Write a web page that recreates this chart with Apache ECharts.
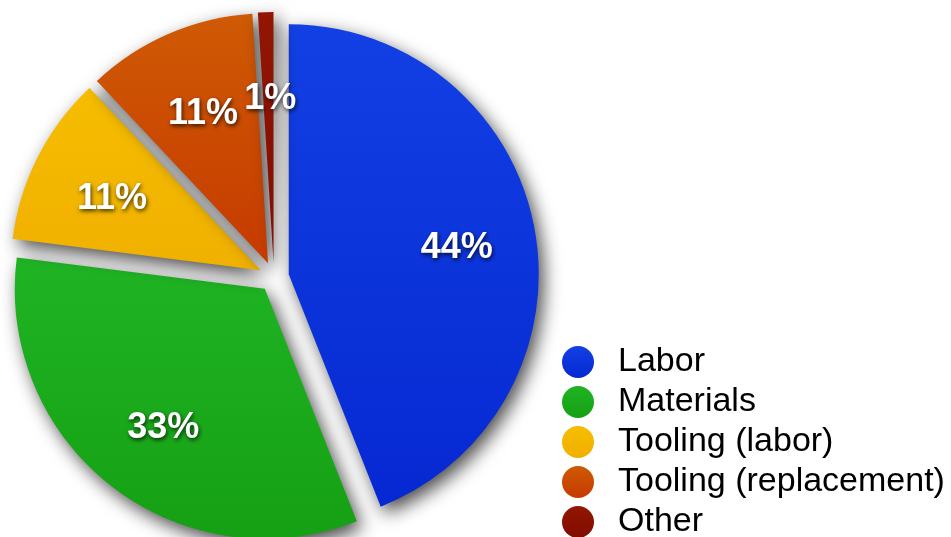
<!DOCTYPE html>
<html>
<head>
<meta charset="utf-8">
<script src="https://cdn.jsdelivr.net/npm/echarts@6/dist/echarts.min.js"></script>
<style>
  html, body { margin: 0; padding: 0; background: #ffffff; }
  #chart { width: 951px; height: 537px; }
</style>
</head>
<body>
<div id="chart"></div>
<script>
// Cost breakdown (percent of total)
const categories = ['Labor', 'Materials', 'Tooling (labor)', 'Tooling (replacement)', 'Other'];
const shares = [44, 33, 11, 11, 1];

// Top / bottom gradient stops for each slice
const colorTop = ['#1240e4', '#1fb424', '#f6bd00', '#cf5a04', '#921602'];
const colorBottom = ['#0628d2', '#16a014', '#f0b000', '#c63a00', '#820c00'];

const grad = (i) => new echarts.graphic.LinearGradient(0, 0, 0, 1, [
  { offset: 0, color: colorTop[i] },
  { offset: 1, color: colorBottom[i] }
]);

const pieCenter = [274, 277];
const labelCenter = [276, 283];
const pieRadius = 250;
const explode = 15;

const chart = echarts.init(document.getElementById('chart'), null, { renderer: 'canvas' });

chart.setOption({
  backgroundColor: '#ffffff',
  animation: false,
  legend: {
    orient: 'vertical',
    left: 562,
    top: 345,
    height: 220,
    padding: 0,
    icon: 'circle',
    itemWidth: 32,
    itemHeight: 32,
    itemGap: 6,
    selectedMode: false,
    data: categories,
    itemStyle: { shadowBlur: 0, shadowColor: 'transparent', shadowOffsetX: 0, shadowOffsetY: 0 },
    textStyle: {
      fontFamily: '"Liberation Sans", Arial, Helvetica, sans-serif',
      fontSize: 34,
      color: '#000000',
      padding: [0, 0, 0, 19]
    }
  },
  series: [
    {
      // the slices themselves
      type: 'pie',
      center: pieCenter,
      radius: pieRadius,
      startAngle: 90,
      clockwise: true,
      selectedMode: 'multiple',
      selectedOffset: explode,
      avoidLabelOverlap: false,
      label: { show: false },
      labelLine: { show: false },
      emphasis: { disabled: true, scale: false },
      itemStyle: {
        shadowBlur: 18,
        shadowColor: 'rgba(0,0,0,0.7)',
        shadowOffsetX: 5,
        shadowOffsetY: 7
      },
      data: categories.map((name, i) => ({
        name,
        value: shares[i],
        selected: true,
        itemStyle: { color: grad(i) }
      }))
    },
    {
      // transparent ring carrying the percentage labels
      type: 'pie',
      center: labelCenter,
      radius: [82, pieRadius],
      startAngle: 90,
      clockwise: true,
      selectedMode: 'multiple',
      selectedOffset: explode,
      silent: true,
      avoidLabelOverlap: false,
      minShowLabelAngle: 0,
      labelLayout: { hideOverlap: false },
      emphasis: { disabled: true, scale: false },
      itemStyle: { color: 'rgba(0,0,0,0)', borderWidth: 0 },
      labelLine: { show: false },
      label: {
        show: true,
        position: 'inside',
        formatter: (p) => p.value + '%',
        fontFamily: '"Liberation Sans", Arial, Helvetica, sans-serif',
        fontWeight: 'bold',
        fontSize: 36,
        color: '#ffffff',
        textShadowColor: 'rgba(0,0,0,0.75)',
        textShadowBlur: 4,
        textShadowOffsetX: 1,
        textShadowOffsetY: 2
      },
      data: categories.map((name, i) => ({
        name,
        value: shares[i],
        selected: true
      }))
    }
  ]
});
</script>
</body>
</html>
